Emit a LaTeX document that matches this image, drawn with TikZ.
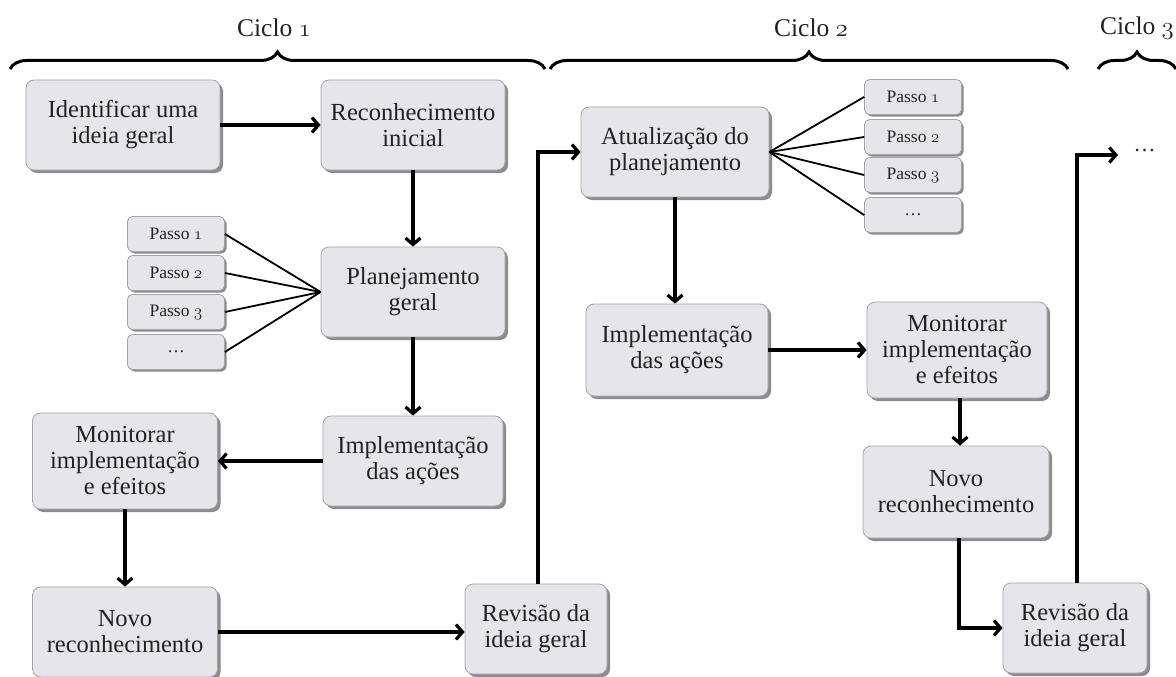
\documentclass[tikz,border=0pt]{standalone}
\usepackage{fontspec}
\setmainfont{Liberation Serif}
\usetikzlibrary{arrows.meta,shadows,decorations.pathreplacing}
\newcommand{\osn}[1]{{\usefont{OML}{cmm}{m}{it}#1}}
\definecolor{boxfill}{HTML}{E5E5EA}
\definecolor{boxline}{HTML}{A4A4A8}
\definecolor{boxshadow}{HTML}{8C8C90}
\definecolor{ink}{HTML}{222222}
\tikzset{
  flowbox/.style={draw=boxline, line width=0.8pt, fill=boxfill, rounded corners=8pt,
    align=center, inner sep=2pt, text=ink,
    font=\fontsize{24.5}{26}\selectfont,
    drop shadow={shadow xshift=3pt, shadow yshift=-3pt, fill=boxshadow, opacity=1}},
  passobox/.style={draw=boxline, line width=0.8pt, fill=boxfill, rounded corners=5pt,
    align=center, inner sep=1pt, minimum width=97pt, minimum height=35pt, text=ink,
    font=\fontsize{17.5}{20}\selectfont,
    drop shadow={shadow xshift=2pt, shadow yshift=-2pt, fill=boxshadow, opacity=1}},
  flow/.style={line width=3.2pt, -{Straight Barb[length=6.5pt,width=15pt]}},
  fan/.style={line width=1.8pt},
  cycbrace/.style={decorate, decoration={brace, amplitude=17pt}, line width=3pt},
  cyclab/.style={font=\fontsize{25.5}{28}\selectfont, text=ink}
}
\begin{document}
\begin{tikzpicture}[x=1pt,y=-1pt]
\useasboundingbox (0,0) rectangle (1176,677);
\fill[white] (0,0) rectangle (1176,677);

% braces and labels
\draw[cycbrace] (10,69) -- (545,69);
\draw[cycbrace] (550,69) -- (1068,69);
\draw[cycbrace] (1098,69) -- (1176,69);
\node[cyclab] (c1) at (274,28) {Ciclo \osn{1}};
\node[cyclab] (c2) at (811,28) {Ciclo \osn{2}};
\node[cyclab] (c3) at (1137,28) {Ciclo \osn{3}};

% cycle 1
\node[flowbox, minimum width=194pt, minimum height=90pt] (idea) at (123,125) {Identificar uma\\ideia geral};
\node[flowbox, minimum width=184pt, minimum height=90pt] (recon) at (413,125) {Reconhecimento\\inicial};
\node[flowbox, minimum width=184pt, minimum height=90pt] (plan) at (413,292) {Planejamento\\geral};
\node[flowbox, minimum width=180pt, minimum height=90pt] (impl1) at (413,461) {Implementação\\das ações};
\node[flowbox, minimum width=185pt, minimum height=96pt] (mon1) at (125,461) {Monitorar\\implementação\\e efeitos};
\node[flowbox, minimum width=185pt, minimum height=90pt] (novo1) at (125,632) {Novo\\reconhecimento};
\node[flowbox, minimum width=142pt, minimum height=90pt] (rev1) at (536,629) {Revisão da\\ideia geral};

\node[passobox] (p1) at (176,234) {Passo \osn{1}};
\node[passobox] (p2) at (176,273) {Passo \osn{2}};
\node[passobox] (p3) at (176,312) {Passo \osn{3}};
\node[passobox] (p4) at (176,352) {\dots};

% cycle 2
\node[flowbox, minimum width=188pt, minimum height=90pt] (atual) at (675,152) {Atualização do\\planejamento};
\node[flowbox, minimum width=182pt, minimum height=92pt] (impl2) at (677,350) {Implementação\\das ações};
\node[flowbox, minimum width=180pt, minimum height=96pt] (mon2) at (957,350) {Monitorar\\implementação\\e efeitos};
\node[flowbox, minimum width=186pt, minimum height=92pt] (novo2) at (956,492) {Novo\\reconhecimento};
\node[flowbox, minimum width=144pt, minimum height=90pt] (rev2) at (1075,628) {Revisão da\\ideia geral};

\node[passobox] (q1) at (913,97) {Passo \osn{1}};
\node[passobox] (q2) at (913,137) {Passo \osn{2}};
\node[passobox] (q3) at (913,175) {Passo \osn{3}};
\node[passobox] (q4) at (913,215) {\dots};

% cycle 3 continuation
\coordinate (c3end) at (1118,155);
\node[font=\fontsize{22}{24}\selectfont, text=ink, anchor=west] (more) at (1130,151) {\dots};

% connectors cycle 1
\draw[flow] (idea.east) -- (recon.west);
\draw[flow] (recon.south) -- (plan.north);
\draw[flow] (plan.south) -- (impl1.north);
\draw[flow] (impl1.west) -- (mon1.east);
\draw[flow] (mon1.south) -- (novo1.north);
\draw[flow] (novo1.east) -- (rev1.west |- novo1.east);
\draw[flow] ([xshift=2pt]rev1.north) |- (atual.west);

\foreach \p in {p1,p2,p3,p4} \draw[fan] (\p.east) -- (plan.west);
\foreach \q in {q1,q2,q3,q4} \draw[fan] (atual.east) -- (\q.west);

% connectors cycle 2
\draw[flow] (atual.south) -- (atual.south |- impl2.north);
\draw[flow] (impl2.east) -- (mon2.west);
\draw[flow] ([xshift=3pt]mon2.south) -- ([xshift=3pt]mon2.south |- novo2.north);
\draw[flow] ([xshift=3pt]novo2.south) |- (rev2.west);
\draw[flow] ([xshift=2pt]rev2.north) |- (c3end);
\end{tikzpicture}
\end{document}
